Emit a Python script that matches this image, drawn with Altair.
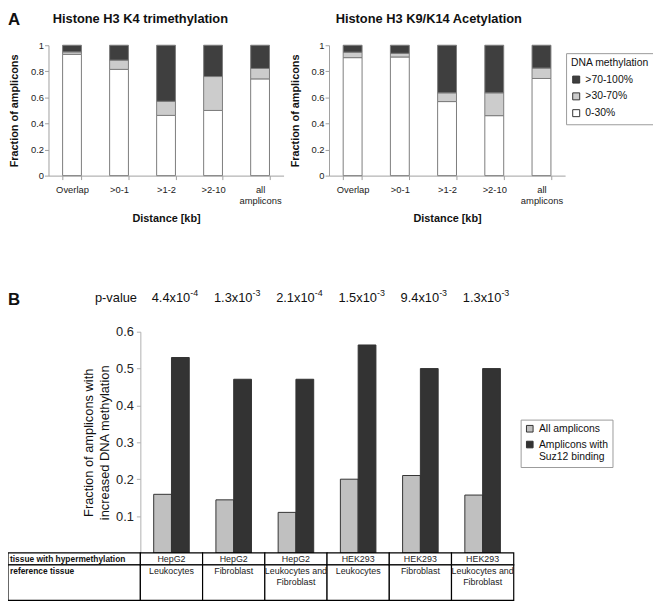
import altair as alt
import pandas as pd

# ---------------- data ----------------
distance = ["Overlap", ">0-1", ">1-2", ">2-10", "all amplicons"]
methylation_classes = ["0-30%", ">30-70%", ">70-100%"]      # bottom -> top in each stack
legend_order = [">70-100%", ">30-70%", "0-30%"]

k4_low = [0.930, 0.815, 0.462, 0.500, 0.742]
k4_mid = [0.019, 0.071, 0.108, 0.260, 0.080]
k4_high = [0.051, 0.114, 0.430, 0.240, 0.178]

ac_low = [0.905, 0.910, 0.568, 0.460, 0.745]
ac_mid = [0.042, 0.028, 0.067, 0.175, 0.080]
ac_high = [0.053, 0.062, 0.365, 0.365, 0.175]

hyper_tissue = ["HepG2", "HepG2", "HepG2", "HEK293", "HEK293", "HEK293"]
reference_tissue = ["Leukocytes", "Fibroblast", "Leukocytes and\nFibroblast",
                    "Leukocytes", "Fibroblast", "Leukocytes and\nFibroblast"]
all_amplicons = [0.159, 0.144, 0.110, 0.200, 0.210, 0.157]
suz12_amplicons = [0.530, 0.471, 0.471, 0.564, 0.500, 0.500]
p_mantissa = ["4.4", "1.3", "2.1", "1.5", "9.4", "1.3"]
p_exponent = ["-4", "-3", "-4", "-3", "-3", "-3"]
series_b = ["All amplicons", "Amplicons with Suz12 binding"]
table_rows = ["tissue with hypermethylation", "reference tissue"]
table_row_start = [0, 1]
table_row_end = [1, 4]

# ---------------- layout (chart pixels = reference pixels - 8px page margin) ----------------
OFF = 8
W, H = 653, 598


def px(v):
    return v - OFF


FONT = "Liberation Sans"
A_Y = [px(174), px(42)]
A1_X = [px(49), px(287)]
A2_X = [px(333), px(572)]
B_X = [px(142), px(520)]
B_Y = [px(556), px(332)]
T_Y = [px(556), px(604)]

layers = []


def text_layer(txt, x, y, size, weight="normal", align="center", baseline="middle", color="#111"):
    return alt.Chart(pd.DataFrame({"t": [txt]})).mark_text(
        fontSize=size, fontWeight=weight, align=align, baseline=baseline, color=color, font=FONT
    ).encode(x=alt.value(x), y=alt.value(y), text="t:N")


def histone_panel(low, mid, high, xr, legend):
    rows = []
    for i, d in enumerate(distance):
        for k, (cls, vals) in enumerate(zip(methylation_classes, (low, mid, high))):
            rows.append({"distance": d, "cls": cls, "value": vals[i], "k": k})
    df = pd.DataFrame(rows)
    return alt.Chart(df).mark_bar(stroke="#7c7c7c", strokeWidth=1).encode(
        x=alt.X("distance:N", sort=distance,
                scale=alt.Scale(domain=distance, range=xr, paddingInner=0.6, paddingOuter=0.3),
                axis=alt.Axis(title="Distance [kb]", orient="bottom", offset=A_Y[0] - H,
                              labelAngle=0, tickBand="extent", domainColor="#a0a0a0",
                              tickColor="#a0a0a0", tickSize=4, labelPadding=5,
                              labelFontSize=9.5, labelColor="#222", labelLineHeight=11,
                              labelExpr="datum.label == 'all amplicons' ? ['all', 'amplicons'] : datum.label",
                              titleFontSize=11, titleFontWeight="bold", titleColor="#111",
                              titlePadding=8)),
        y=alt.Y("value:Q", stack="zero",
                scale=alt.Scale(domain=[0, 1], range=A_Y, nice=False),
                axis=alt.Axis(title="Fraction of amplicons", orient="left", offset=-xr[0],
                              values=[0, 0.2, 0.4, 0.6, 0.8, 1], format="~g", grid=False,
                              domainColor="#a0a0a0", tickColor="#a0a0a0", tickSize=4,
                              labelFontSize=9.5, labelColor="#222", labelPadding=1,
                              titleFontSize=11, titleFontWeight="bold", titleColor="#111",
                              titlePadding=11)),
        color=alt.Color("cls:N",
                        scale=alt.Scale(domain=legend_order, range=["#3f3f3f", "#cccccc", "#ffffff"]),
                        legend=legend),
        order=alt.Order("k:Q", sort="ascending"),
    )


legend_a = alt.Legend(title="DNA methylation", orient="none", legendX=px(573), legendY=px(50),
                      strokeColor="#9a9a9a", fillColor="white", padding=5,
                      symbolType="square", symbolSize=50, symbolStrokeColor="#333333",
                      symbolStrokeWidth=1, labelFontSize=10.5, labelColor="#111",
                      titleFontSize=10.5, titleFontWeight="normal", titleColor="#111",
                      rowPadding=5, titlePadding=6)

layers.append(histone_panel(k4_low, k4_mid, k4_high, A1_X, None))
layers.append(histone_panel(ac_low, ac_mid, ac_high, A2_X, legend_a))
layers.append(text_layer("Histone H3 K4 trimethylation", px(142), px(15), 13, "bold"))
layers.append(text_layer("Histone H3 K9/K14 Acetylation", px(434), px(15), 13, "bold"))
layers.append(text_layer("A", 0, px(21), 17, "bold", align="left", baseline="alphabetic"))
layers.append(text_layer("B", 0, px(305), 17, "bold", align="left", baseline="alphabetic"))

# ---------------- panel B ----------------
groups = [f"{h} vs {r.replace(chr(10), ' ')}" for h, r in zip(hyper_tissue, reference_tissue)]
b_rows = []
for i, g in enumerate(groups):
    b_rows.append({"group": g, "series": series_b[0], "value": all_amplicons[i]})
    b_rows.append({"group": g, "series": series_b[1], "value": suz12_amplicons[i]})
b_df = pd.DataFrame(b_rows)


def group_x(axis=None):
    return alt.X("group:N", sort=groups,
                 scale=alt.Scale(domain=groups, range=B_X, paddingInner=0, paddingOuter=0),
                 axis=axis)


legend_b = alt.Legend(title=None, orient="none", legendX=px(527), legendY=px(421),
                      strokeColor="#9a9a9a", fillColor="white", padding=4,
                      symbolType="square", symbolSize=45, symbolStrokeColor="#333333",
                      symbolStrokeWidth=1, labelFontSize=10.5, labelColor="#111",
                      labelLimit=200, rowPadding=4,
                      labelExpr="datum.label == 'Amplicons with Suz12 binding' ? ['Amplicons with', 'Suz12 binding'] : datum.label")

bars_b = alt.Chart(b_df).mark_bar(stroke="#333333", strokeWidth=1).encode(
    x=group_x(),
    xOffset=alt.XOffset("series:N", sort=series_b,
                        scale=alt.Scale(domain=series_b, paddingInner=0, paddingOuter=0.75)),
    y=alt.Y("value:Q", scale=alt.Scale(domain=[0, 0.6], range=B_Y, nice=False),
            axis=alt.Axis(title=["Fraction of amplicons with", "increased DNA methylation"],
                          orient="left", offset=-B_X[0], values=[0.1, 0.2, 0.3, 0.4, 0.5, 0.6],
                          format=".1f", grid=False, domainColor="#b0b0b0", tickColor="#b0b0b0",
                          tickSize=4, labelFontSize=13, labelColor="#222", labelPadding=3,
                          titleFontSize=13, titleFontWeight="normal", titleColor="#111",
                          titleLineHeight=16, titlePadding=4)),
    color=alt.Color("series:N", scale=alt.Scale(domain=series_b, range=["#c0c0c0", "#333333"]),
                    legend=legend_b),
)
layers.append(bars_b)

# p-values
p_df = pd.DataFrame({"group": groups,
                     "base": [m + "x10" for m in p_mantissa],
                     "exp": p_exponent})
layers.append(text_layer("p-value", px(96), px(298), 13, align="left"))
layers.append(alt.Chart(p_df).mark_text(fontSize=13, align="right", baseline="middle", dx=19,
                                        color="#111", font=FONT).encode(
    x=group_x(), y=alt.value(px(298)), text="base:N"))
layers.append(alt.Chart(p_df).mark_text(fontSize=9, align="left", baseline="middle", dx=19, dy=-5,
                                        color="#111", font=FONT).encode(
    x=group_x(), y=alt.value(px(298)), text="exp:N"))

# table below panel B
cell_rows = []
for i, g in enumerate(groups):
    for r in range(len(table_rows)):
        cell_rows.append({"group": g, "start": table_row_start[r], "end": table_row_end[r],
                          "text": hyper_tissue[i] if r == 0 else reference_tissue[i]})
cells_df = pd.DataFrame(cell_rows)
head_df = pd.DataFrame({"row": table_rows, "start": table_row_start, "end": table_row_end})


def line_y():
    return alt.Y("start:Q", scale=alt.Scale(domain=[0, 4], range=T_Y, nice=False), axis=None)


layers.append(alt.Chart(head_df).mark_rect(fill="white", stroke="black", strokeWidth=1.2).encode(
    x=alt.value(0), x2=alt.value(B_X[0]), y=line_y(), y2="end:Q"))
layers.append(alt.Chart(head_df).mark_text(fontSize=8.5, fontWeight="bold", align="left",
                                           baseline="top", dx=2, dy=2, color="#111", font=FONT).encode(
    x=alt.value(0), y=line_y(), text="row:N"))
layers.append(alt.Chart(cells_df).mark_rect(fill="white", stroke="black", strokeWidth=1.2).encode(
    x=group_x(), y=line_y(), y2="end:Q"))
layers.append(alt.Chart(cells_df).mark_text(fontSize=9, baseline="top", dy=2, lineBreak="\n",
                                            lineHeight=11, color="#222", font=FONT).encode(
    x=group_x(), y=line_y(), text="text:N"))

chart = alt.layer(*layers).resolve_scale(
    x="independent", y="independent", color="independent"
).properties(
    width=W, height=H, padding=0, background="white",
    autosize=alt.AutoSizeParams(type="none"),
).configure(font=FONT).configure_view(strokeWidth=0)

chart.save("out.html", embed_options={"renderer": "svg", "actions": False})
